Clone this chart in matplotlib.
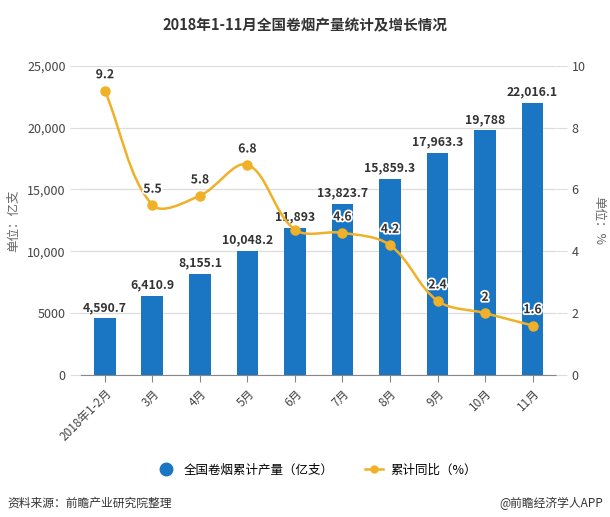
import numpy as np
import matplotlib
matplotlib.use("Agg")
import matplotlib.pyplot as plt
from matplotlib.path import Path
from matplotlib.patches import PathPatch
from matplotlib.lines import Line2D
import matplotlib.patheffects as pe

plt.rcParams['font.family'] = ['Noto Sans CJK SC', 'DejaVu Sans']

# data
months = ['2018年1-2月', '3月', '4月', '5月', '6月', '7月', '8月', '9月', '10月', '11月']
output = [4590.7, 6410.9, 8155.1, 10048.2, 11893, 13823.7, 15859.3, 17963.3, 19788, 22016.1]
output_labels = ['4,590.7', '6,410.9', '8,155.1', '10,048.2', '11,893', '13,823.7',
                 '15,859.3', '17,963.3', '19,788', '22,016.1']
growth = [9.2, 5.5, 5.8, 6.8, 4.7, 4.6, 4.2, 2.4, 2.0, 1.6]
growth_labels = ['9.2', '5.5', '5.8', '6.8', '', '4.6', '4.2', '2.4', '2', '1.6']

bar_color = '#1a76c2'
line_color = '#f0b028'
grey = '#666666'


def smooth_path(xs, ys, smooth=0.35, yscale=0.652):
    # bezier smoothing like echarts: control points along (next - prev),
    # split by distance ratio, clamped to the data's bounding box
    xs = np.asarray(xs, float)
    ys = np.asarray(ys, float)
    n = len(xs)
    pts = np.column_stack([xs, ys * yscale])
    lo, hi = pts.min(axis=0), pts.max(axis=0)
    cps = []
    for i in range(n):
        p = pts[i]
        prev = pts[max(i - 1, 0)]
        nxt = pts[min(i + 1, n - 1)]
        v = (nxt - prev) * smooth
        d0 = np.hypot(*(p - prev))
        d1 = np.hypot(*(p - nxt))
        s = d0 + d1
        if s > 0:
            d0, d1 = d0 / s, d1 / s
        c0 = np.clip(p - v * d0, lo, hi)
        c1 = np.clip(p + v * d1, lo, hi)
        cps.append((c0, c1))
    verts = [tuple(pts[0])]
    codes = [Path.MOVETO]
    for i in range(n - 1):
        verts += [tuple(cps[i][1]), tuple(cps[i + 1][0]), tuple(pts[i + 1])]
        codes += [Path.CURVE4] * 3
    verts = [(vx, vy / yscale) for vx, vy in verts]
    return Path(verts, codes)


fig = plt.figure(figsize=(6.1, 5.17), dpi=100)
ax = fig.add_axes([0.133, 0.2747, 0.779, 0.598])
ax2 = ax.twinx()

x = np.arange(len(months))
ax.bar(x, output, width=0.46, color=bar_color, zorder=2)
for xi, v, lab in zip(x, output, output_labels):
    ax.text(xi, v + 350, lab, ha='center', va='bottom', fontsize=8.8,
            fontweight='bold', color='#333333', zorder=5)

ax.set_xlim(-0.5, len(months) - 0.5)
ax.set_ylim(0, 25000)
ax.set_yticks([0, 5000, 10000, 15000, 20000, 25000])
ax.set_yticklabels(['0', '5000', '10,000', '15,000', '20,000', '25,000'])
ax.grid(axis='y', color='#dddddd', linewidth=0.9, zorder=0)
ax.set_axisbelow(True)
ax.set_xticks(x)
ax.set_xticklabels(months, rotation=45, ha='right', rotation_mode='anchor')
ax.tick_params(axis='x', length=5, color='#888888', labelsize=8.5, labelcolor='#444444')
ax.tick_params(axis='y', length=8, color='#dddddd', labelsize=9, labelcolor='#444444', pad=3)
for s in ['top', 'right', 'left']:
    ax.spines[s].set_visible(False)
    ax2.spines[s].set_visible(False)
ax.spines['bottom'].set_color('#888888')
ax2.spines['bottom'].set_visible(False)
ax.set_ylabel('单位：亿支', fontsize=9, color=grey, labelpad=5)

ax2.set_ylim(0, 10)
ax2.set_yticks([0, 2, 4, 6, 8, 10])
ax2.tick_params(axis='y', length=8, color='#dddddd', labelsize=9, labelcolor='#444444', pad=3)
ax2.set_ylabel('单位：%', fontsize=9, color=grey, rotation=270, labelpad=14)

ax2.add_patch(PathPatch(smooth_path(x, growth), facecolor='none', edgecolor=line_color,
                        linewidth=1.8, zorder=3))
ax2.plot(x, growth, linestyle='none', marker='o', markersize=6.5, color=line_color, zorder=4)
for xi, v, lab in zip(x, growth, growth_labels):
    if lab:
        ax2.text(xi, v + 0.3, lab, ha='center', va='bottom', fontsize=8.8,
                 fontweight='bold', color='#333333', zorder=6,
                 path_effects=[pe.withStroke(linewidth=2.5, foreground='white')])

fig.text(0.5, 0.951, '2018年1-11月全国卷烟产量统计及增长情况', ha='center', va='center',
         fontsize=10.5, fontweight='bold', color='#333333')

handles = [
    Line2D([], [], linestyle='none', marker='o', markersize=9, color=bar_color),
    Line2D([], [], color=line_color, linewidth=1.8, marker='o', markersize=5),
]
fig.legend(handles, ['全国卷烟累计产量（亿支）', '累计同比（%）'], loc='center',
           bbox_to_anchor=(0.52, 0.091), ncol=2, frameon=False, fontsize=9,
           handlelength=1.5, columnspacing=2.5, handletextpad=0.6)

fig.text(0.012, 0.027, '资料来源：前瞻产业研究院整理', ha='left', va='center',
         fontsize=8.5, color='#333333', style='italic')
fig.text(0.988, 0.027, '@前瞻经济学人APP', ha='right', va='center',
         fontsize=8.5, color='#333333')

fig.savefig('out.png', dpi=100)
